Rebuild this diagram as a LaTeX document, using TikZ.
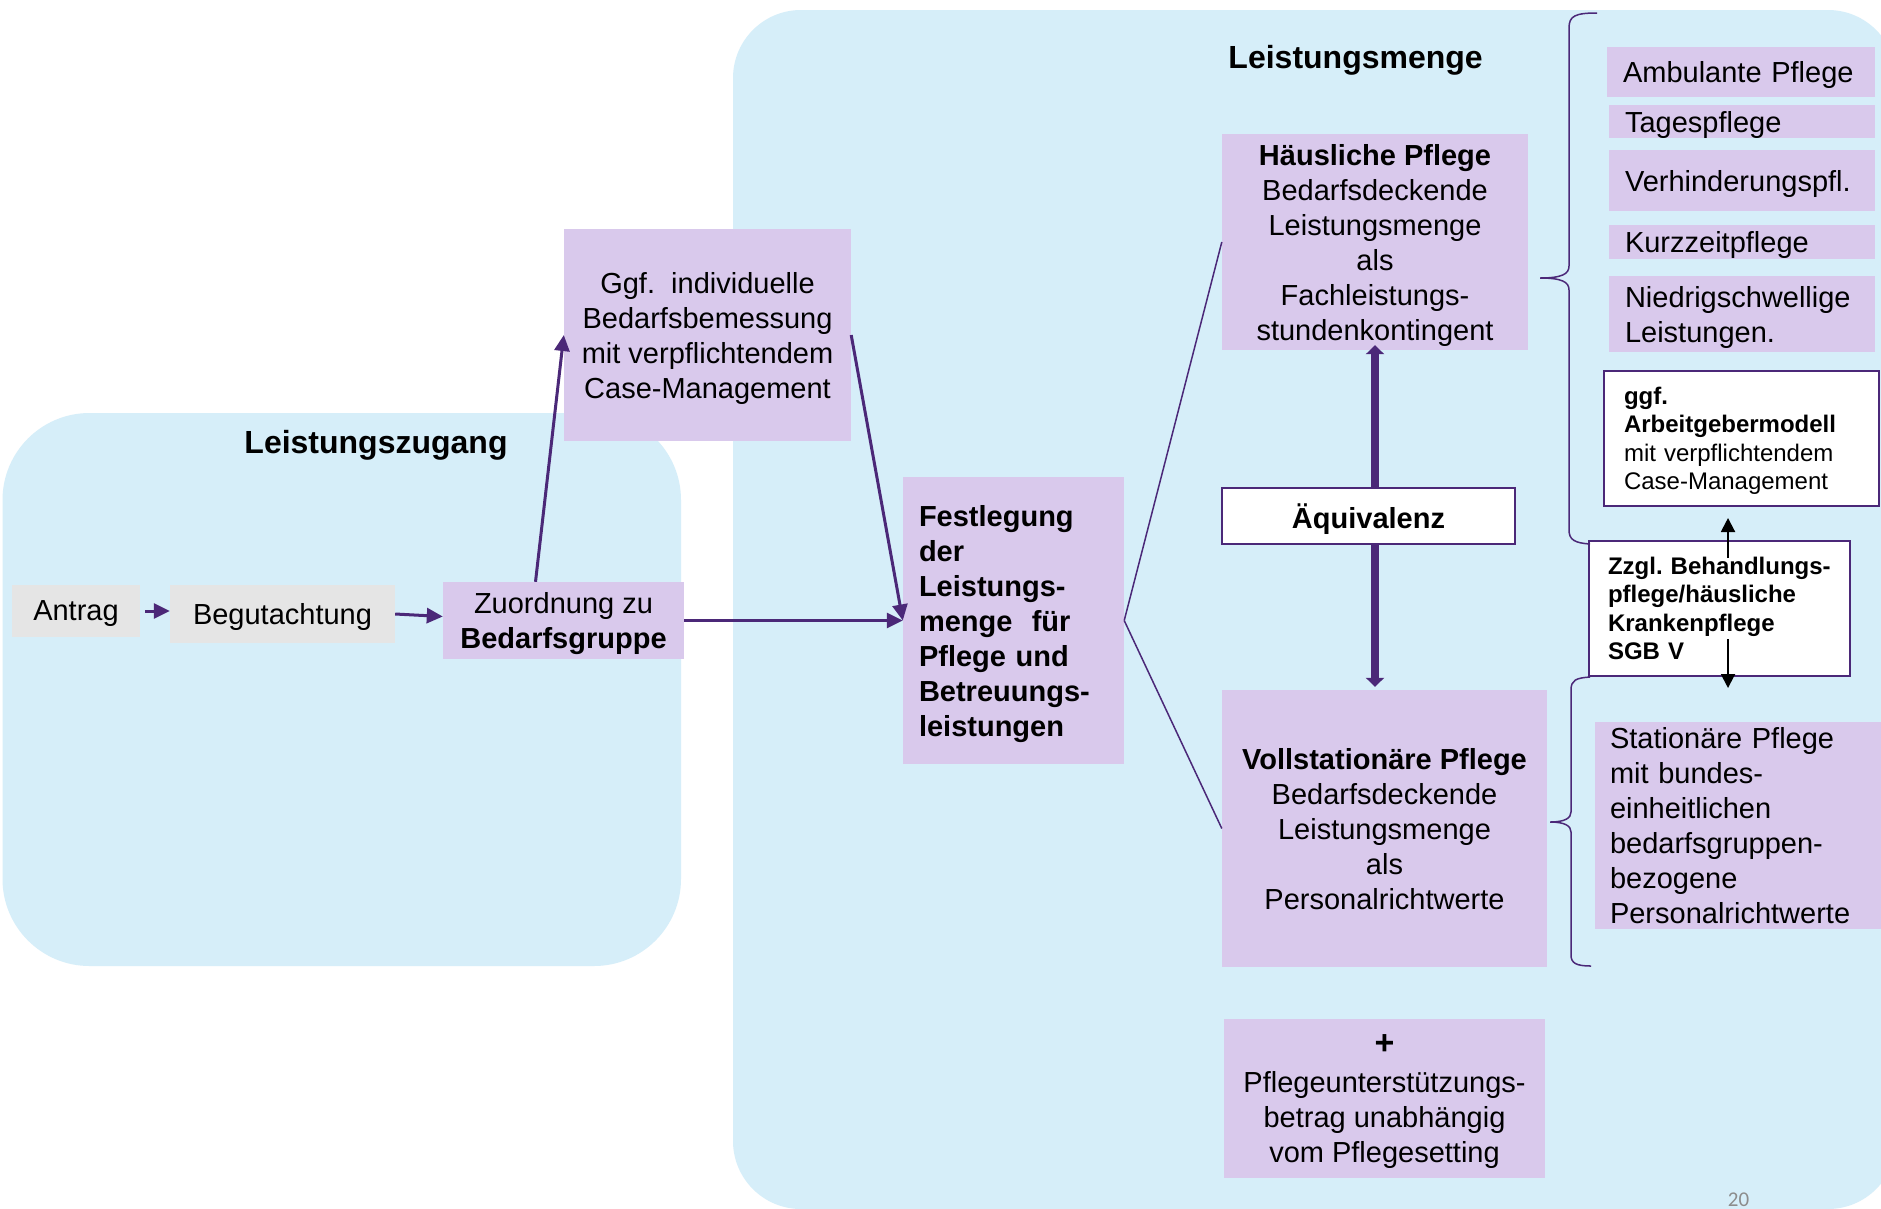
\documentclass[tikz,border=0pt]{standalone}
\usepackage{fontspec}
\setmainfont{Liberation Sans}
\newfontfamily\pagenofont{Carlito}
\usetikzlibrary{arrows.meta,calc}
\definecolor{bgblue}{RGB}{214,238,249}
\definecolor{lav}{RGB}{217,201,236}
\definecolor{grayb}{RGB}{229,229,229}
\definecolor{purp}{RGB}{75,40,120}
\newcommand\mainsz{\fontsize{29}{35}\selectfont}
\newcommand\smallsz{\fontsize{24}{28.5}\selectfont}
\newcommand\titlesz{\fontsize{32}{38}\selectfont\bfseries}
\begin{document}
\begin{tikzpicture}[x=1pt,y=-1pt,
  graybox/.style={fill=grayb, inner sep=0pt, font=\mainsz, align=center, text depth=0pt},
  lavbox/.style={fill=lav, inner sep=0pt, font=\mainsz, align=center, text depth=0pt},
  listbox/.style={fill=lav, inner ysep=0pt, inner xsep=16pt, font=\mainsz, align=left, text depth=0pt},
  whitebox/.style={fill=white, draw=purp, line width=2pt, inner ysep=0pt},
  titletext/.style={font=\titlesz, anchor=base, inner sep=0pt},
  arr/.style={draw=purp, line width=3pt, -{Triangle[width=15pt,length=16pt]}},
  boldarr/.style={draw=purp, line width=8pt, -{Triangle[width=18pt,length=9pt]}},
  blk/.style={draw=black, line width=2pt, -{Triangle[width=14pt,length=14pt]}},
  thinl/.style={draw=purp, line width=1.5pt},
  bracel/.style={draw=purp, line width=1.5pt}
]
\clip (0,0) rectangle (1881,1208);
\fill[white] (0,0) rectangle (1881,1208);
% background regions
\fill[bgblue, rounded corners=87pt] (2.5,413) rectangle (681,966);
\fill[bgblue, rounded corners=68pt] (733,10) rectangle (1896,1209);

% titles
\node[titletext] (tzug) at (376,453) {Leistungszugang};
\node[titletext] (tmen) at (1355.6,68) {Leistungsmenge};

% left chain
\node[graybox, minimum width=128pt, minimum height=52pt] (antrag) at (76,611) {Antrag};
\node[graybox, minimum width=225pt, minimum height=58pt] (begut) at (282.5,614) {Begutachtung};
\node[lavbox, minimum width=241pt, minimum height=77pt] (zuord) at (563.5,620.5) {Zuordnung zu\\\textbf{Bedarfsgruppe}};
\node[lavbox, minimum width=287pt, minimum height=212pt] (ggf) at (707.5,335) {Ggf.\ \ individuelle\\Bedarfsbemessung\\mit verpflichtendem\\Case-Management};
\node[lavbox, font=\mainsz\bfseries, align=left, inner xsep=16pt, text width=189pt, text depth=210pt, minimum height=287pt] (fest) at (1013.5,620.5) {Festlegung\\der\\Leistungs-\\menge\ \ für\\Pflege und\\Betreuungs-\\leistungen};

% middle column
\node[lavbox, minimum width=306pt, minimum height=216pt] (haeus) at (1375,242) {\textbf{Häusliche Pflege}\\Bedarfsdeckende\\Leistungsmenge\\als\\Fachleistungs-\\stundenkontingent};
\node[whitebox, minimum width=293pt, minimum height=56pt, font=\mainsz\bfseries, text depth=0pt] (aequ) at (1368.5,516) {Äquivalenz};
\node[lavbox, minimum width=325pt, minimum height=277pt] (voll) at (1384.5,828.5) {\textbf{Vollstationäre Pflege}\\Bedarfsdeckende\\Leistungsmenge\\als\\Personalrichtwerte};
\node[lavbox, minimum width=321pt, minimum height=159pt] (pfu) at (1384.5,1098.5) {{\fontsize{34}{35}\selectfont\bfseries +}\\[3pt]Pflegeunterstützungs-\\betrag unabhängig\\vom Pflegesetting};

% right column
\node[listbox, text width=236pt, minimum height=50pt] (amb) at (1741,72) {Ambulante Pflege};
\node[listbox, text width=234pt, minimum height=33pt] (tag) at (1742,121.5) {Tagespflege};
\node[listbox, text width=234pt, minimum height=61pt] (verh) at (1742,180.5) {Verhinderungspfl.};
\node[listbox, text width=234pt, minimum height=34pt] (kurz) at (1742,242) {Kurzzeitpflege};
\node[listbox, text width=234pt, text depth=35pt, minimum height=76pt] (niedr) at (1742,314) {Niedrigschwellige\\Leistungen.};
\node[whitebox, font=\smallsz, align=left, inner xsep=20pt, text width=235pt, text depth=85.5pt, minimum height=135pt] (arb) at (1741.5,438.5) {\textbf{ggf.}\\\textbf{Arbeitgebermodell}\\mit verpflichtendem\\Case-Management};
\node[whitebox, font=\smallsz\bfseries, align=left, inner xsep=19pt, text width=223pt, text depth=85.5pt, minimum height=135pt] (zzgl) at (1719.5,608.5) {Zzgl.\ Behandlungs-\\pflege/häusliche\\Krankenpflege\\SGB V};
\node[listbox, inner xsep=15pt, text width=271pt, text depth=175pt, minimum height=207pt] (stat) at (1745.5,825.5) {Stationäre Pflege\\mit bundes-\\einheitlichen\\bedarfsgruppen-\\bezogene\\Personalrichtwerte};

% braces
\draw[bracel] (1597,13) .. controls (1575,13) and (1569,16) .. (1569,28) -- (1569,266) .. controls (1569,274) and (1562,278) .. (1540,278) .. controls (1562,278) and (1569,282) .. (1569,290) -- (1569,530) .. controls (1569,540) and (1575,543) .. (1590,544);
\draw[bracel] (1590,677) .. controls (1576,678) and (1571,680) .. (1571,690) -- (1571,812) .. controls (1571,818) and (1565,822) .. (1550,822) .. controls (1565,822) and (1571,826) .. (1571,832) -- (1571,955) .. controls (1571,963) and (1576,966) .. (1591,966);

% connectors
\draw[arr, shorten <=5pt] (antrag.east) -- (antrag.east -| begut.west);
\draw[arr] (begut.east) -- ($(zuord.west)+(0,-4)$);
\draw[arr] ([xshift=-28pt]zuord.north) -- (ggf.west);
\draw[arr] (ggf.east) -- (fest.west);
\draw[arr] (zuord.east) -- (fest.west);
\draw[thinl] (fest.east) -- (haeus.west);
\draw[thinl] (fest.east) -- (voll.west);
\draw[boldarr] (aequ.north -| haeus.south) -- ($(haeus.south)+(0,-5)$);
\draw[boldarr] (aequ.south -| haeus.south) -- ($(voll.north -| haeus.south)+(0,-3)$);

\coordinate (bu) at (1728,558);
\coordinate (bd) at (1728,639);
\coordinate (be) at (1728,688);
\draw[blk] (bu) -- ($(bu |- arb.south)+(0,11)$);
\draw[blk] (bd) -- (be);

% page number
\node[font=\pagenofont\fontsize{21}{21}\selectfont, text=black!45, anchor=base, inner sep=0pt] (pg) at (1738.5,1206) {20};
\end{tikzpicture}
\end{document}
